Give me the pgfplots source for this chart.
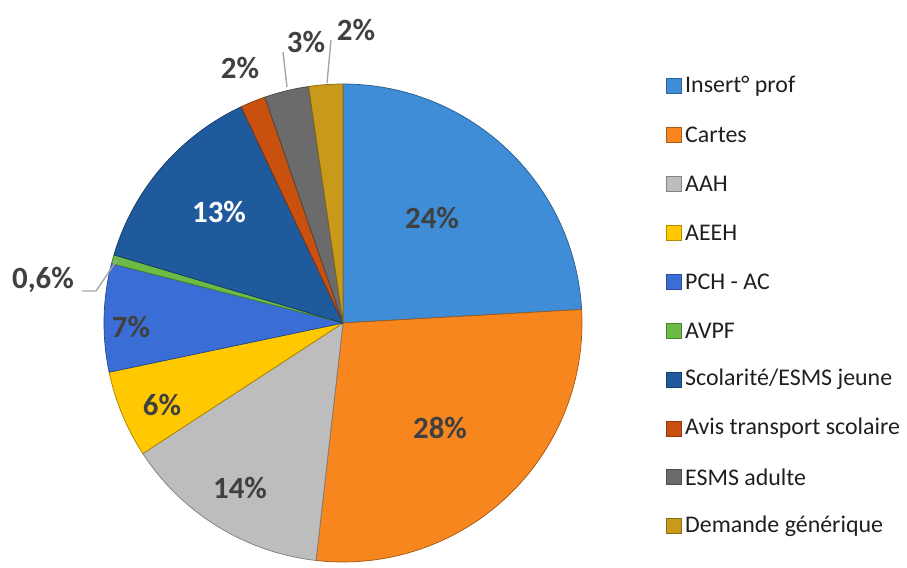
\documentclass[border=0pt]{standalone}
\usepackage{pgfplots}
\pgfplotsset{compat=1.18}
\usepackage{pgfplotstable}
\usepackage{fontspec}
\setmainfont{Carlito}

\definecolor{cInsert}{HTML}{3F8DD6}
\definecolor{cCartes}{HTML}{F7861E}
\definecolor{cAAH}{HTML}{BDBDBD}
\definecolor{cAEEH}{HTML}{FFC800}
\definecolor{cPCH}{HTML}{3A6ED6}
\definecolor{cAVPF}{HTML}{6CBB45}
\definecolor{cScol}{HTML}{1E5A9C}
\definecolor{cAvis}{HTML}{C9500F}
\definecolor{cESMS}{HTML}{6B6B6B}
\definecolor{cDem}{HTML}{C9991B}
\definecolor{cLab}{HTML}{404040}
\definecolor{cLead}{HTML}{A6A6A6}

% v = share in %, lx/ly = label position (picture pixels, y downwards)
\pgfplotstableread[col sep=semicolon]{
v;col;tc;lab;lx;ly;name
24.1;cInsert;cLab;24;432;218;Insert° prof
27.7;cCartes;cLab;28;440;428;Cartes
14.0;cAAH;cLab;14;240;488;AAH
5.9;cAEEH;cLab;6;162;405;AEEH
7.3;cPCH;cLab;7;131;327;PCH - AC
0.6;cAVPF;cLab;0,6;43;280;AVPF
13.4;cScol;white;13;219;212;Scolarité/ESMS jeune
1.7;cAvis;cLab;2;240;68;Avis transport scolaire
3.0;cESMS;cLab;3;306;42;ESMS adulte
2.3;cDem;cLab;2;356;30;Demande générique
}\piedata

\begin{document}
\begin{tikzpicture}
\begin{axis}[
    width=907bp, height=566bp, scale only axis,
    xmin=0, xmax=907, ymin=0, ymax=566,
    hide axis, clip=false,
]
\pgfplotsextra{
  \path (axis cs:0,0) rectangle (axis cs:907,566);
  % slices, clockwise from the top
  \gdef\angA{90}
  \foreach \i in {0,...,9}{
    \pgfplotstablegetelem{\i}{v}\of\piedata
    \pgfmathsetmacro\sw{3.6*\pgfplotsretval}
    \pgfplotstablegetelem{\i}{col}\of\piedata
    \edef\cc{\pgfplotsretval}
    \pgfmathsetmacro\angB{\angA-\sw}
    \fill[\cc, draw=\cc!65!black, line width=0.7bp, line join=round]
      (axis cs:343,243) -- ++(\angA:239bp)
      arc[start angle=\angA, end angle=\angB, radius=239bp] -- cycle;
    \xdef\angA{\angB}
  }
  % leader lines
  \draw[cLead, line width=1.4bp] (axis cs:82,275) -- (axis cs:96,275) -- (axis cs:117,306);
  \draw[cLead, line width=1.4bp] (axis cs:283,514) -- (axis cs:287,479);
  \draw[cLead, line width=1.4bp] (axis cs:331,526) -- (axis cs:327,483);
  % data labels and legend
  \foreach \i in {0,...,9}{
    \pgfplotstablegetelem{\i}{tc}\of\piedata \edef\tc{\pgfplotsretval}
    \pgfplotstablegetelem{\i}{col}\of\piedata \edef\cc{\pgfplotsretval}
    \pgfplotstablegetelem{\i}{lab}\of\piedata \edef\lab{\pgfplotsretval}
    \pgfplotstablegetelem{\i}{lx}\of\piedata \edef\lx{\pgfplotsretval}
    \pgfplotstablegetelem{\i}{ly}\of\piedata \pgfmathsetmacro\ly{566-\pgfplotsretval}
    \pgfplotstablegetelem{\i}{name}\of\piedata \edef\nm{\pgfplotsretval}
    \node[text=\tc, font=\bfseries\fontsize{31}{36}\selectfont, inner sep=0pt]
      at (axis cs:\lx,\ly) {\lab\%};
    \pgfmathsetmacro\ry{566-(86+48.9*\i)}
    \fill[\cc, draw=\cc!70!black, line width=0.5bp]
      (axis cs:666,\ry) ++(0,-7.5bp) rectangle ++(15bp,15bp);
    \node[anchor=west, inner sep=0pt, text=black!88,
          font=\fontsize{24}{28}\selectfont]
      at (axis cs:685,\ry) {\nm};
  }
}
\end{axis}
\end{tikzpicture}
\end{document}
